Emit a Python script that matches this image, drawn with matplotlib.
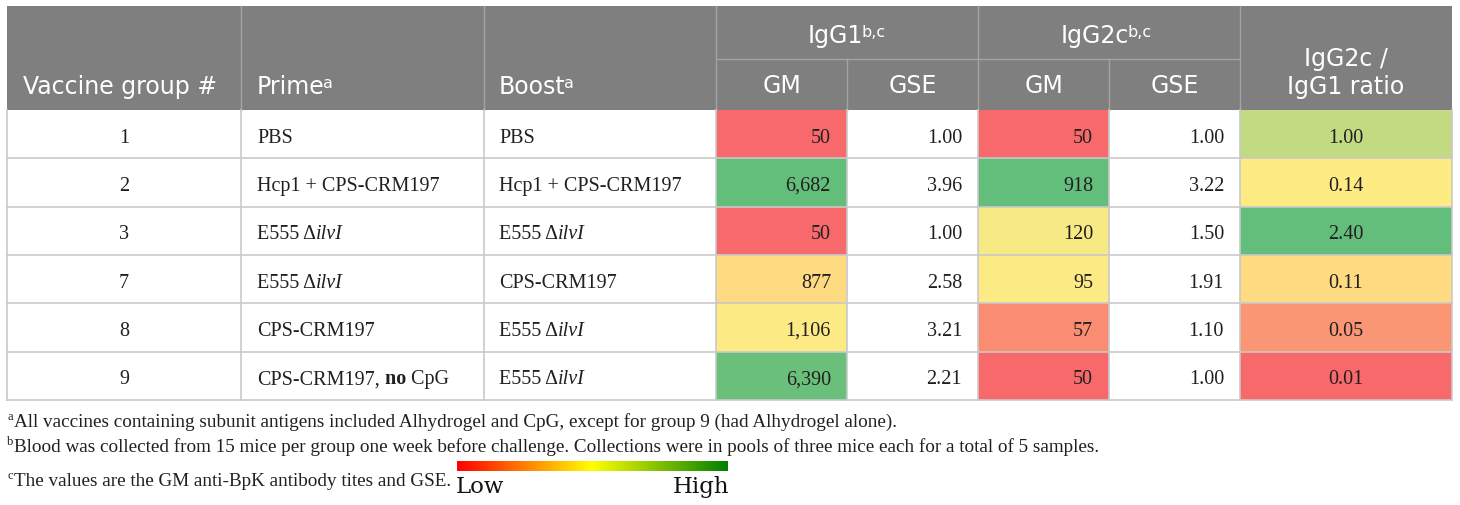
import re
import numpy as np
import matplotlib
matplotlib.use("Agg")
import matplotlib.pyplot as plt
from matplotlib.colors import LinearSegmentedColormap, TwoSlopeNorm
from matplotlib.patches import Rectangle

# table data
groups = ["1", "2", "3", "7", "8", "9"]
prime = ["PBS", "Hcp1 + CPS-CRM197", "E555 Δ*ilvI*", "E555 Δ*ilvI*",
         "CPS-CRM197", "CPS-CRM197,** no**| CpG"]
boost = ["PBS", "Hcp1 + CPS-CRM197", "E555 Δ*ilvI*", "CPS-CRM197",
         "E555 Δ*ilvI*", "E555 Δ*ilvI*"]
igg1_gm = [50, 6682, 50, 877, 1106, 6390]
igg1_gse = [1.00, 3.96, 1.00, 2.58, 3.21, 2.21]
igg2c_gm = [50, 918, 120, 95, 57, 50]
igg2c_gse = [1.00, 3.22, 1.50, 1.91, 1.10, 1.00]
ratio = [1.00, 0.14, 2.40, 0.11, 0.05, 0.01]

footnotes = [
    ("a", "All vaccines containing subunit antigens included Alhydrogel and CpG, except for group 9 (had Alhydrogel alone)."),
    ("b", "Blood was collected from 15 mice per group one week before challenge. Collections were in pools of three mice each for a total of 5 samples."),
    ("c", "The values are the GM anti-BpK antibody tites and GSE."),
]

HEAD_FONT = "DejaVu Sans"
BODY_FONT = "Liberation Serif"
HEAD_BG = "#7f7f7f"
GRID = "#c9c9c9"
INK = "#231f20"

# excel-like 3 colour scale
scale = LinearSegmentedColormap.from_list("rgy", ["#f8696b", "#ffeb84", "#63be7b"])
legend_cmap = LinearSegmentedColormap.from_list("leg", ["#ff0000", "#ffff00", "#008000"])

fig = plt.figure(figsize=(14.6, 5.06), dpi=100)
ax = fig.add_axes([0, 0, 1, 1])
ax.set_xlim(0, 1460)
ax.set_ylim(506, 0)
ax.axis("off")

col_x = [7, 241, 484, 716, 847, 978, 1109, 1240, 1452]
top, mid, head_bot = 7, 60, 111
row_h = 48.3
n = len(groups)
row_y = [head_bot + i * row_h for i in range(n + 1)]

# header background
ax.add_patch(Rectangle((col_x[0], top), col_x[-1] - col_x[0], head_bot - top,
                       facecolor=HEAD_BG, edgecolor="none"))
hl = "#a3a3a3"
for x in col_x[1:-1]:
    y0 = top if x in (241, 484, 716, 978, 1240) else mid
    ax.plot([x, x], [y0, head_bot], color=hl, lw=1)
ax.plot([col_x[3], col_x[7]], [mid, mid], color=hl, lw=1)


def head_text(x, y, s, sup=None, ha="left"):
    t = ax.text(x, y, s, ha=ha, va="baseline", color="white",
                family=HEAD_FONT, fontsize=17)
    if sup:
        ax.annotate(sup, xy=(1, 1), xycoords=t, xytext=(-1, -1),
                    textcoords="offset points", ha="left", va="top",
                    color="white", family=HEAD_FONT, fontsize=11.5)
    return t


head_text(23, 94, "Vaccine group #")
head_text(257, 94, "Prime", "a")
head_text(499, 94, "Boost", "a")
head_text((col_x[3] + col_x[5]) / 2 - 12, 43, "IgG1", "b,c", ha="center")
head_text((col_x[5] + col_x[7]) / 2 - 14, 43, "IgG2c", "b,c", ha="center")
for i, lab in zip(range(3, 7), ["GM", "GSE", "GM", "GSE"]):
    head_text((col_x[i] + col_x[i + 1]) / 2, 93, lab, ha="center")
head_text((col_x[7] + col_x[8]) / 2, 66, "IgG2c /", ha="center")
head_text((col_x[7] + col_x[8]) / 2, 94, "IgG1 ratio", ha="center")


def rich_text(x, y, s):
    parts = [p for p in re.split(r"(\*\*.+?\*\*|\*.+?\*|\|)", s) if p and p != "|"]
    prev = None
    for p in parts:
        kw = dict(family=BODY_FONT, fontsize=14.5, color=INK)
        if p.startswith("**"):
            p = p[2:-2]
            kw["weight"] = "bold"
        elif p.startswith("*"):
            p = p[1:-1]
            kw["style"] = "italic"
        if prev is None:
            prev = ax.text(x, y, p, ha="left", va="baseline", **kw)
        else:
            prev = ax.annotate(p, xy=(1, 0), xycoords=prev, ha="left",
                               va="bottom", **kw)


body_kw = dict(family=BODY_FONT, fontsize=14.5, color=INK, va="baseline")

colored = {3: igg1_gm, 5: igg2c_gm, 7: ratio}
for c, vals in colored.items():
    vals = np.asarray(vals, dtype=float)
    norm = TwoSlopeNorm(vmin=vals.min(), vcenter=np.median(vals), vmax=vals.max())
    for i, v in enumerate(vals):
        ax.add_patch(Rectangle((col_x[c], row_y[i]), col_x[c + 1] - col_x[c], row_h,
                               facecolor=scale(norm(v)), edgecolor="none"))

for i in range(n):
    yb = (row_y[i] + row_y[i + 1]) / 2 + 7.5
    ax.text((col_x[0] + col_x[1]) / 2, yb, groups[i], ha="center", **body_kw)
    rich_text(col_x[1] + 16, yb, prime[i])
    rich_text(col_x[2] + 15, yb, boost[i])
    ax.text(col_x[4] - 16, yb, f"{igg1_gm[i]:,}", ha="right", **body_kw)
    ax.text(col_x[5] - 16, yb, f"{igg1_gse[i]:.2f}", ha="right", **body_kw)
    ax.text(col_x[6] - 16, yb, f"{igg2c_gm[i]:,}", ha="right", **body_kw)
    ax.text(col_x[7] - 16, yb, f"{igg2c_gse[i]:.2f}", ha="right", **body_kw)
    ax.text((col_x[7] + col_x[8]) / 2, yb, f"{ratio[i]:.2f}", ha="center", **body_kw)

# grid lines
for y in row_y[1:]:
    ax.plot([col_x[0], col_x[-1]], [y, y], color=GRID, lw=1.2)
for x in col_x:
    ax.plot([x, x], [head_bot, row_y[-1]], color=GRID, lw=1.2)

# footnotes
foot_y = [427, 452, 486]
for (mark, txt), y in zip(footnotes, foot_y):
    ax.text(7, y - 7, mark, ha="left", va="baseline", family=BODY_FONT,
            fontsize=9, color=INK)
    ax.text(14, y, txt, ha="left", va="baseline", family=BODY_FONT,
            fontsize=13.8, color=INK)

# low/high legend
grad = np.linspace(0, 1, 256).reshape(1, -1)
ax.imshow(grad, cmap=legend_cmap, aspect="auto", extent=(457, 728, 472, 462),
          zorder=3)
ax.text(456, 493, "Low", ha="left", va="baseline", family="DejaVu Serif",
        fontsize=16.5, color="#111111")
ax.text(729, 493, "High", ha="right", va="baseline", family="DejaVu Serif",
        fontsize=16.5, color="#111111")
ax.set_xlim(0, 1460)
ax.set_ylim(506, 0)

fig.savefig("out.png", dpi=100)
